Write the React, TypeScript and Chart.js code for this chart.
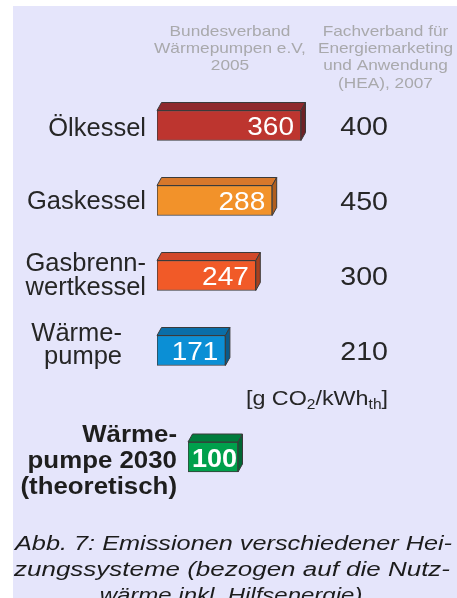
import React, { useEffect, useRef } from "react";
import { Chart, registerables } from "chart.js";

Chart.register(...registerables);

// ---------- data ----------
const systems: string[][] = [["Ölkessel"], ["Gaskessel"], ["Gasbrenn-", "wertkessel"], ["Wärme-", "pumpe"]];
const bwp2005: number[] = [360, 288, 247, 171];
const hea2007: number[] = [400, 450, 300, 210];
const futureSystem: string[][] = [["Wärme-", "pumpe 2030", "(theoretisch)"]];
const future2030: number[] = [100];
const sourceBWP: string[] = ["Bundesverband", "Wärmepumpen e.V,", "2005"];
const sourceHEA: string[] = ["Fachverband für", "Energiemarketing", "und Anwendung", "(HEA), 2007"];
const captionLines: string[] = [
  "Abb. 7: Emissionen verschiedener Hei-",
  "zungssysteme (bezogen auf die Nutz-",
  "wärme inkl. Hilfsenergie)",
];

// ---------- styles ----------
const FONT = "'Liberation Sans', Arial, Helvetica, sans-serif";
const faces = [
  { front: "#BD352F", top: "#8F292D", side: "#6E2226" },
  { front: "#F2922A", top: "#D7782B", side: "#B05E1E" },
  { front: "#F15A28", top: "#D1482A", side: "#A8401E" },
  { front: "#0B8FD5", top: "#0A6EA8", side: "#0A5A8A" },
];
const greenFace = { front: "#00A04C", top: "#007C3D", side: "#006633" };
const labelStyle = [
  { right: 146, dy: [10] },
  { right: 146, dy: [8.5] },
  { right: 146, dy: [-5, 19.5] },
  { right: 122, dy: [-10, 13] },
];
const DX = 4.5;
const DY = 8;

function drawText(
  ctx: CanvasRenderingContext2D,
  text: string,
  x: number,
  y: number,
  font: string,
  color: string,
  align: CanvasTextAlign,
  sx = 1
) {
  ctx.save();
  ctx.translate(x, y);
  ctx.scale(sx, 1);
  ctx.font = font;
  ctx.fillStyle = color;
  ctx.textAlign = align;
  ctx.textBaseline = "alphabetic";
  ctx.fillText(text, 0, 0);
  ctx.restore();
}

function measure(ctx: CanvasRenderingContext2D, text: string, font: string, sx = 1) {
  ctx.save();
  ctx.font = font;
  const w = ctx.measureText(text).width * sx;
  ctx.restore();
  return w;
}

function draw3D(chart: any, colors: { front: string; top: string; side: string }[]) {
  const ctx: CanvasRenderingContext2D = chart.ctx;
  const meta = chart.getDatasetMeta(0);
  meta.data.forEach((bar: any, i: number) => {
    const { x, y, base, height } = bar.getProps(["x", "y", "base", "height"], true);
    const c = colors[i];
    const top = y - height / 2;
    const bottom = y + height / 2;
    ctx.save();
    ctx.lineWidth = 1;
    ctx.strokeStyle = "#3a3a3a";
    ctx.lineJoin = "round";
    ctx.beginPath();
    ctx.moveTo(base, top);
    ctx.lineTo(base + DX, top - DY);
    ctx.lineTo(x + DX, top - DY);
    ctx.lineTo(x, top);
    ctx.closePath();
    ctx.fillStyle = c.top;
    ctx.fill();
    ctx.stroke();
    ctx.beginPath();
    ctx.moveTo(x, top);
    ctx.lineTo(x + DX, top - DY);
    ctx.lineTo(x + DX, bottom - DY);
    ctx.lineTo(x, bottom);
    ctx.closePath();
    ctx.fillStyle = c.side;
    ctx.fill();
    ctx.stroke();
    ctx.restore();
  });
}

// stretch a line horizontally so that it fills the given width
function fillLine(ctx: CanvasRenderingContext2D, line: string, left: number, width: number, y: number, font: string, color: string) {
  const natural = measure(ctx, line, font, 1);
  drawText(ctx, line, left, y, font, color, "left", width / natural);
}

const mainPlugin = {
  id: "mainDecor",
  afterDatasetsDraw(chart: any) {
    const ctx: CanvasRenderingContext2D = chart.ctx;
    draw3D(chart, faces);
    const meta = chart.getDatasetMeta(0);
    const yScale = chart.scales.y;
    meta.data.forEach((bar: any, i: number) => {
      const { x } = bar.getProps(["x"], true);
      const cy = yScale.getPixelForValue(i);
      drawText(ctx, String(bwp2005[i]), x - 7, cy + 9, `25px ${FONT}`, "#ffffff", "right", 1.12);
      drawText(ctx, String(hea2007[i]), 388, cy + 9.5, `26px ${FONT}`, "#262626", "right", 1.1);
      const st = labelStyle[i];
      systems[i].forEach((ln, k) => {
        drawText(ctx, ln, st.right, cy + st.dy[k], `25.5px ${FONT}`, "#262626", "right", 1);
      });
    });

    // headers
    const hf = `15px ${FONT}`;
    sourceBWP.forEach((ln, k) => drawText(ctx, ln, 230, 35.5 + k * 17.4, hf, "#A9A9AC", "center", 1.15));
    sourceHEA.forEach((ln, k) => drawText(ctx, ln, 385.5, 35.5 + k * 17.4, hf, "#A9A9AC", "center", 1.15));

    // unit
    const big = `21px ${FONT}`;
    const small = `14px ${FONT}`;
    const sxu = 1.11;
    const parts: [string, string, number][] = [
      ["[g CO", big, 0],
      ["2", small, 4],
      ["/kWh", big, 0],
      ["th", small, 4],
      ["]", big, 0],
    ];
    const tw = parts.reduce((a, p) => a + measure(ctx, p[0], p[1], sxu), 0);
    let ux = 388 - tw;
    parts.forEach((p) => {
      drawText(ctx, p[0], ux, 405 + p[2], p[1], "#262626", "left", sxu);
      ux += measure(ctx, p[0], p[1], sxu);
    });

    // caption
    const cf = `italic 20px ${FONT}`;
    fillLine(ctx, captionLines[0], 15, 437, 549.5, cf, "#1c1c1c");
    fillLine(ctx, captionLines[1], 14, 436, 575.5, cf, "#1c1c1c");
    drawText(ctx, captionLines[2], 231, 601.5, cf, "#1c1c1c", "center", 1.2);
  },
};

const futurePlugin = {
  id: "futureDecor",
  afterDatasetsDraw(chart: any) {
    const ctx: CanvasRenderingContext2D = chart.ctx;
    draw3D(chart, [greenFace]);
    const meta = chart.getDatasetMeta(0);
    const yScale = chart.scales.y;
    meta.data.forEach((bar: any, i: number) => {
      const { x } = bar.getProps(["x"], true);
      const cy = yScale.getPixelForValue(i);
      drawText(ctx, String(future2030[i]), x - 1, cy + 9.5, `bold 26px ${FONT}`, "#ffffff", "right", 1.04);
      const offs = [-15, 11, 37];
      futureSystem[i].forEach((ln, k) => {
        drawText(ctx, ln, 177, cy + offs[k], `bold 23.5px ${FONT}`, "#1e1e1e", "right", 1.1);
      });
    });
  },
};

export default function App() {
  const refA = useRef<HTMLCanvasElement>(null);
  const refB = useRef<HTMLCanvasElement>(null);

  useEffect(() => {
    const a = new Chart(refA.current as HTMLCanvasElement, {
      type: "bar",
      data: {
        labels: systems.map((s) => s.join(" ")),
        datasets: [
          {
            data: bwp2005,
            backgroundColor: faces.map((f) => f.front),
            borderColor: "#3a3a3a",
            borderWidth: 1,
            borderSkipped: false,
            barThickness: 30,
          },
        ],
      },
      options: {
        indexAxis: "y",
        responsive: false,
        animation: false,
        events: [],
        layout: { padding: { left: 157, right: 100, top: 88, bottom: 210 } },
        scales: {
          x: { type: "linear", min: 0, max: 500, display: false },
          y: { display: false, offset: true },
        },
        plugins: { legend: { display: false }, tooltip: { enabled: false } },
      },
      plugins: [mainPlugin],
    } as any);

    const b = new Chart(refB.current as HTMLCanvasElement, {
      type: "bar",
      data: {
        labels: futureSystem.map((s) => s.join(" ")),
        datasets: [
          {
            data: future2030,
            backgroundColor: [greenFace.front],
            borderColor: "#3a3a3a",
            borderWidth: 1,
            borderSkipped: false,
            barThickness: 30,
          },
        ],
      },
      options: {
        indexAxis: "y",
        responsive: false,
        animation: false,
        events: [],
        layout: { padding: { left: 188, right: 169, top: 427, bottom: 111 } },
        scales: {
          x: { type: "linear", min: 0, max: 200, display: false },
          y: { display: false, offset: true },
        },
        plugins: { legend: { display: false }, tooltip: { enabled: false } },
      },
      plugins: [futurePlugin],
    } as any);

    return () => {
      a.destroy();
      b.destroy();
    };
  }, []);

  return (
    <div style={{ position: "absolute", left: 0, top: 0, width: 457, height: 598, background: "#ffffff", overflow: "hidden" }}>
      <div style={{ position: "absolute", left: 13, top: 6, right: 0, bottom: 0, background: "#E5E5FB" }} />
      <canvas ref={refA} width={457} height={598} style={{ position: "absolute", left: 0, top: 0 }} />
      <canvas ref={refB} width={457} height={598} style={{ position: "absolute", left: 0, top: 0 }} />
    </div>
  );
}
